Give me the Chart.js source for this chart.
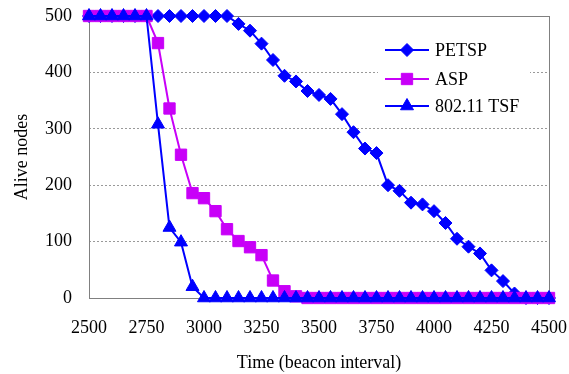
<!DOCTYPE html>
<html>
<head>
<meta charset="utf-8">
<script src="https://cdn.jsdelivr.net/npm/chart.js@4.4.1/dist/chart.umd.min.js"></script>
<style>
  html, body { margin: 0; padding: 0; background: #fff; }
  #wrap { width: 569px; height: 374px; }
</style>
</head>
<body>
<div id="wrap"><canvas id="c" width="569" height="374"></canvas></div>
<script>
const times = [2500, 2550, 2600, 2650, 2700, 2750, 2800, 2850, 2900, 2950,
  3000, 3050, 3100, 3150, 3200, 3250, 3300, 3350, 3400, 3450,
  3500, 3550, 3600, 3650, 3700, 3750, 3800, 3850, 3900, 3950,
  4000, 4050, 4100, 4150, 4200, 4250, 4300, 4350, 4400, 4450, 4500];

const petsp = [500, 500, 500, 500, 500, 500, 500, 500, 500, 500,
  500, 500, 500, 486, 474, 451, 422, 394, 384, 367,
  360, 353, 326, 294, 265, 257, 200, 190, 169, 166,
  154, 133, 105, 91, 79, 49, 30, 8, 0, 0, 0];

const asp = [500, 500, 500, 500, 500, 500, 452, 336, 254, 186,
  177, 154, 122, 101, 90, 76, 31, 12, 3, 0,
  0, 0, 0, 0, 0, 0, 0, 0, 0, 0,
  0, 0, 0, 0, 0, 0, 0, 0, 0, 0, 0];

const tsf = [500, 500, 500, 500, 500, 500, 308, 125, 99, 20,
  0, 0, 0, 0, 0, 0, 0, 0, 0, 0,
  0, 0, 0, 0, 0, 0, 0, 0, 0, 0,
  0, 0, 0, 0, 0, 0, 0, 0, 0, 0, 0];

const BLUE = '#0000ff';
const VIOLET = '#c800f8';
const FONT = '"Liberation Serif", "Times New Roman", serif';

const pts = ys => ys.map((y, i) => ({ x: times[i], y }));

const series = [
  { label: 'PETSP', data: petsp, color: BLUE, style: 'rectRot', radius: 6.5 },
  { label: 'ASP', data: asp, color: VIOLET, style: 'rect', radius: 8 },
  { label: '802.11 TSF', data: tsf, color: BLUE, style: 'triangle', radius: 7.5 },
];

// plot frame + legend box drawn by hand (Excel style)
const frame = {
  id: 'frame',
  beforeDatasetsDraw(chart) {
    const { ctx, chartArea: a } = chart;
    ctx.save();
    ctx.strokeStyle = '#808080';
    ctx.lineWidth = 1;
    ctx.strokeRect(a.left + 0.5, a.top + 0.5, a.right - a.left, a.bottom - a.top);
    ctx.restore();
  },
  afterDatasetsDraw(chart) {
    const { ctx } = chart;
    ctx.save();
    ctx.fillStyle = '#fff';
    ctx.fillRect(378, 32, 152, 88);
    ctx.font = '18px ' + FONT;
    ctx.textBaseline = 'middle';
    const rows = [50, 79, 106];
    series.forEach((s, i) => {
      const y = rows[i];
      ctx.strokeStyle = s.color;
      ctx.fillStyle = s.color;
      ctx.lineWidth = 2;
      ctx.beginPath();
      ctx.moveTo(385, y);
      ctx.lineTo(429, y);
      ctx.stroke();
      ctx.lineWidth = 1;
      Chart.helpers.drawPoint(ctx, { pointStyle: s.style, radius: s.radius, rotation: 0, borderWidth: 1 }, 407, y);
      ctx.fillStyle = '#000';
      ctx.fillText(s.label, 435, y + 1);
    });
    ctx.restore();
  }
};

new Chart(document.getElementById('c'), {
  type: 'line',
  data: {
    datasets: series.map((s, i) => ({
      label: s.label,
      data: pts(s.data),
      borderColor: s.color,
      backgroundColor: s.color,
      borderWidth: 2,
      pointStyle: s.style,
      pointRadius: s.radius,
      pointBorderWidth: 1,
      pointBorderColor: s.color,
      pointBackgroundColor: s.color,
      order: 3 - i,
      clip: false,
      tension: 0,
    })),
  },
  options: {
    responsive: false,
    animation: false,
    layout: { padding: 0 },
    plugins: { legend: { display: false }, tooltip: { enabled: false } },
    scales: {
      x: {
        type: 'linear',
        min: 2500,
        max: 4500,
        grid: { display: false, drawTicks: false },
        border: { display: false },
        ticks: { stepSize: 250, padding: 19, color: '#000', font: { family: FONT, size: 18 }, callback: v => String(v) },
        title: { display: true, text: 'Time (beacon interval)', color: '#000', font: { family: FONT, size: 18 }, padding: { top: 0, bottom: 0 } },
        afterFit(scale) {
          scale.height = 76;
          scale.paddingLeft = 0;
          scale.paddingRight = 20;
        },
      },
      y: {
        min: 0,
        max: 500,
        grid: {
          drawTicks: false,
          color: ctx => (ctx.tick.value === 0 || ctx.tick.value === 500) ? 'rgba(0,0,0,0)' : '#999999',
          lineWidth: 1,
        },
        border: { display: false, dash: [2, 2] },
        ticks: { stepSize: 100, padding: 17, color: '#000', font: { family: FONT, size: 18 }, callback: v => String(v) },
        title: { display: true, text: 'Alive nodes', color: '#000', font: { family: FONT, size: 18 }, padding: { top: 11, bottom: 0 } },
        afterFit(scale) {
          scale.width = 89;
          scale.paddingTop = 16;
          scale.paddingBottom = 0;
        },
      },
    },
  },
  plugins: [frame],
});
</script>
</body>
</html>
